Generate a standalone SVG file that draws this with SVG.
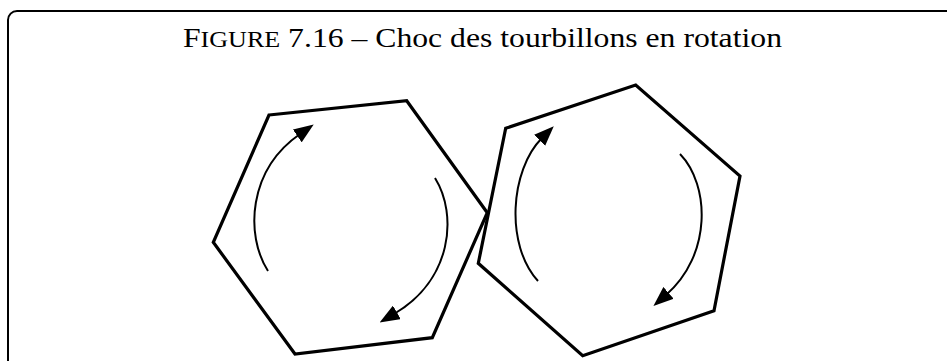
<svg xmlns="http://www.w3.org/2000/svg" width="947" height="361" viewBox="0 0 947 361">
  <style>
    .frame { fill: none; stroke: #000; stroke-width: 2; }
    .hex { fill: none; stroke: #000; stroke-width: 3.2; stroke-linejoin: miter; }
    .arc { fill: none; stroke: #000; stroke-width: 2; marker-end: url(#head); }
    .title { font-family: "Liberation Serif", "DejaVu Serif", serif; font-size: 28px; fill: #000; }
  </style>
  <defs>
    <marker id="head" markerUnits="userSpaceOnUse" markerWidth="20" markerHeight="16" viewBox="0 0 18 14" refX="3" refY="7" orient="auto">
      <path d="M0,0 L18,7 L0,14 Z" fill="#000"/>
    </marker>
  </defs>
  <rect width="947" height="361" fill="#fff"/>
  <path class="frame" d="M8,365 L8,20 A9,9 0 0 1 17,11 L950,11"/>
  <text class="title" x="183" y="46.5" textLength="599" lengthAdjust="spacingAndGlyphs">F<tspan font-size="23">IGURE</tspan> 7.16 – Choc des tourbillons en rotation</text>
  <g id="vortex-left">
    <polygon class="hex" points="269,115 406.7,100.7 487.3,212.7 432.3,337.7 295,354 213.3,242.3"/>
  </g>
  <g id="vortex-right">
    <polygon class="hex" points="505.7,128.3 635.7,85 740,176 714,310.7 582.7,355.7 478.3,263.3"/>
  </g>
  <g id="connectors">
    <path class="arc" d="M268,271 C245,235 248,170 300,134"/>
    <path class="arc" d="M435,178 C458,215 452,280 394,314"/>
    <path class="arc" d="M538,281 C505,245 510,170 542,138"/>
    <path class="arc" d="M680,154 C710,185 712,255 666,295"/>
  </g>
</svg>
